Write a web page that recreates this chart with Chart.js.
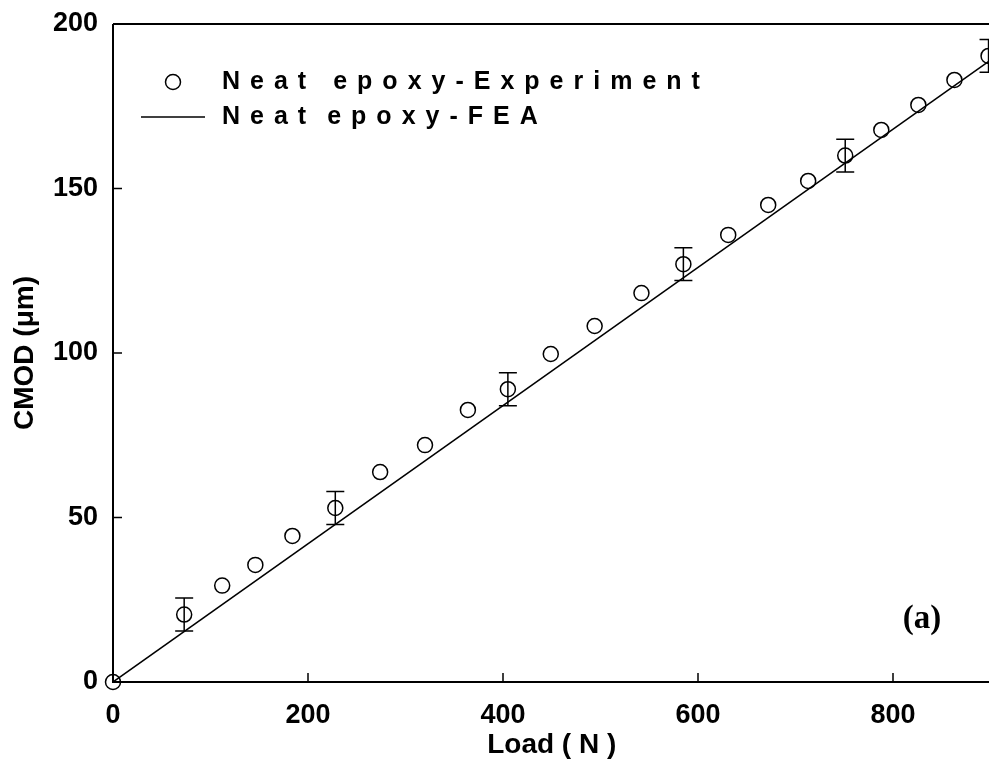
<!DOCTYPE html>
<html>
<head>
<meta charset="utf-8">
<script src="https://cdn.jsdelivr.net/npm/chart.js@4.4.1/dist/chart.umd.min.js"></script>
<style>
    html, body { margin: 0; padding: 0; background: #fff; overflow: hidden; }
    #wrap { width: 989px; height: 766px; overflow: hidden; }
</style>
</head>
<body>
<div id="wrap"><canvas id="chart" width="1000" height="766"></canvas></div>
<script>
// experiment points
const loadExp = [0, 73, 112, 146, 184, 228, 274, 320, 364, 405, 449, 494, 542, 585, 631, 672, 713, 751, 788, 826, 863, 898];
const cmodExp = [0, 20.5, 29.3, 35.6, 44.4, 52.9, 63.8, 72, 82.7, 89, 99.7, 108.2, 118.2, 127, 135.9, 145, 152.3, 160, 167.8, 175.4, 183, 190.3];
const errExp = [0, 5, 0, 0, 0, 5, 0, 0, 0, 5, 0, 0, 0, 5, 0, 0, 0, 5, 0, 0, 0, 5];

// FEA line
const loadFea = [0, 900];
const cmodFea = [0, 189];

const xTicks = [0, 200, 400, 600, 800];
const yTicks = [0, 50, 100, 150, 200];

const legendLabels = ["Neat epoxy-Experiment", "Neat epoxy-FEA"];

const FONT = "Arial, 'Liberation Sans', sans-serif";

const toPoints = (xs, ys) => xs.map((x, i) => ({x: x, y: ys[i]}));

// error bars, ticks, frame and legend
const extrasPlugin = {
    id: 'extras',
    afterDatasetsDraw(chart) {
        const ctx = chart.ctx;
        const xs = chart.scales.x;
        const ys = chart.scales.y;
        ctx.save();
        ctx.strokeStyle = '#000';
        ctx.lineWidth = 1.5;
        loadExp.forEach((l, i) => {
            if (!errExp[i]) return;
            const px = xs.getPixelForValue(l);
            const top = ys.getPixelForValue(cmodExp[i] + errExp[i]);
            const bot = ys.getPixelForValue(cmodExp[i] - errExp[i]);
            ctx.beginPath();
            ctx.moveTo(px, top); ctx.lineTo(px, bot);
            ctx.moveTo(px - 9, top); ctx.lineTo(px + 9, top);
            ctx.moveTo(px - 9, bot); ctx.lineTo(px + 9, bot);
            ctx.stroke();
        });
        ctx.restore();
    },
    afterDraw(chart) {
        const ctx = chart.ctx;
        const area = chart.chartArea;
        const xs = chart.scales.x;
        const ys = chart.scales.y;
        ctx.save();
        ctx.strokeStyle = '#000';
        ctx.lineWidth = 2;
        ctx.beginPath();
        ctx.moveTo(area.left, area.top);
        ctx.lineTo(area.right, area.top);
        ctx.moveTo(area.left, area.top);
        ctx.lineTo(area.left, area.bottom);
        ctx.lineTo(area.right, area.bottom);
        ctx.stroke();

        // inward ticks
        ctx.lineWidth = 1.5;
        ctx.beginPath();
        xTicks.forEach(v => {
            const px = xs.getPixelForValue(v);
            ctx.moveTo(px, area.bottom);
            ctx.lineTo(px, area.bottom - 9);
        });
        yTicks.forEach(v => {
            const py = ys.getPixelForValue(v);
            ctx.moveTo(area.left, py);
            ctx.lineTo(area.left + 9, py);
        });
        ctx.stroke();

        // legend, letter-spaced like the original
        ctx.fillStyle = '#000';
        ctx.font = 'bold 25px ' + FONT;
        ctx.textBaseline = 'middle';
        const spaced = (text, x, y, spaceW) => {
            for (const ch of text) {
                ctx.fillText(ch, x, y);
                const w = ch === ' ' ? spaceW : ctx.measureText(ch).width;
                x += w + 10;
            }
        };
        ctx.lineWidth = 1.5;
        ctx.beginPath();
        ctx.arc(173, 82, 7.5, 0, Math.PI * 2);
        ctx.stroke();
        spaced(legendLabels[0], 222, 82, 7);
        ctx.beginPath();
        ctx.moveTo(141, 117);
        ctx.lineTo(205, 117);
        ctx.stroke();
        spaced(legendLabels[1], 222, 117, 1);

        // panel label
        ctx.font = "bold 33px 'Times New Roman', 'Liberation Serif', serif";
        ctx.textAlign = 'center';
        ctx.fillText('(a)', 922, 619);
        ctx.restore();
    }
};

const ctx = document.getElementById('chart').getContext('2d');
new Chart(ctx, {
    type: 'scatter',
    data: {
        datasets: [
            {
                label: legendLabels[0],
                data: toPoints(loadExp, cmodExp),
                showLine: false,
                pointRadius: 7.5,
                pointHoverRadius: 7.5,
                pointBorderWidth: 1.5,
                borderColor: '#000',
                backgroundColor: 'rgba(0,0,0,0)',
                clip: false,
            },
            {
                label: legendLabels[1],
                data: toPoints(loadFea, cmodFea),
                showLine: true,
                pointRadius: 0,
                borderColor: '#000',
                borderWidth: 1.5,
            },
        ],
    },
    options: {
        responsive: false,
        animation: false,
        devicePixelRatio: 1,
        layout: {padding: {top: 24, right: 9.5, left: 0, bottom: 0}},
        plugins: {
            legend: {display: false},
            tooltip: {enabled: false},
        },
        scales: {
            x: {
                type: 'linear',
                min: 0,
                max: 900,
                afterFit: s => {
                    s.height = 84;
                    s.paddingLeft = 0;
                    s.paddingRight = 0;
                },
                grid: {display: false, drawTicks: false},
                border: {display: false},
                ticks: {
                    stepSize: 200,
                    includeBounds: false,
                    padding: 17,
                    color: '#000',
                    font: {family: FONT, size: 27, weight: 'bold'},
                },
                title: {
                    display: true,
                    text: 'Load ( N )',
                    color: '#000',
                    padding: {top: 0, bottom: 4},
                    font: {family: FONT, size: 28, weight: 'bold'},
                },
            },
            y: {
                type: 'linear',
                min: 0,
                max: 200,
                afterFit: s => {
                    s.width = 113;
                    s.paddingTop = 0;
                    s.paddingBottom = 0;
                },
                grid: {display: false, drawTicks: false},
                border: {display: false},
                ticks: {
                    stepSize: 50,
                    padding: 15,
                    color: '#000',
                    font: {family: FONT, size: 27, weight: 'bold'},
                },
                title: {
                    display: true,
                    text: 'CMOD (μm)',
                    color: '#000',
                    padding: {top: 8, bottom: 0},
                    font: {family: FONT, size: 28, weight: 'bold'},
                },
            },
        },
    },
    plugins: [extrasPlugin],
});
</script>
</body>
</html>
